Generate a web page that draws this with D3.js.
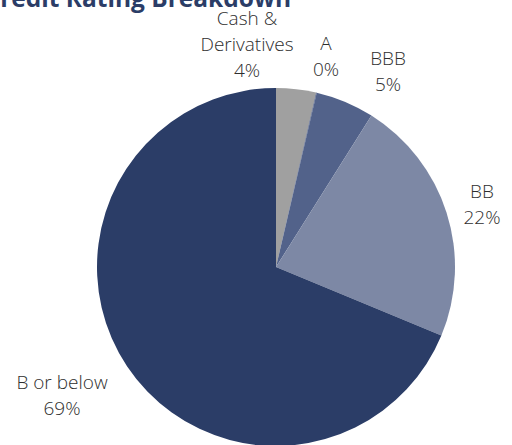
<!DOCTYPE html>
<html>
<head>
<meta charset="utf-8">
<script src="https://cdn.jsdelivr.net/npm/d3@7"></script>
<style>
    body { margin: 0; background: #fff; }
    .label { font-family: "Open Sans", "Noto Sans", sans-serif; font-size: 19px; font-weight: 300; fill: #2e2e2e; }
    .title { font-family: "Open Sans", "Noto Sans", sans-serif; font-size: 24.5px; font-weight: 700; fill: #2b3d67; }
</style>
</head>
<body>
<div id="chart"></div>
<script>
// data
let categories = ["Cash & Derivatives", "A", "BBB", "BB", "B or below"];
let shares = [3.6, 0.05, 5.3, 22.3, 68.75];
let pctLabels = ["4%", "0%", "5%", "22%", "69%"];
let labelLines = [["Cash &", "Derivatives"], ["A"], ["BBB"], ["BB"], ["B or below"]];
let colors = ["#a0a0a0", "#3d4d78", "#52628a", "#7d88a5", "#2b3d67"];

// label anchors (centre of text block), picked to match the Excel layout
let labelAnchor = [[247, 16], [326, 41], [388, 56], [482, 189], [62, 380]];

let width = 512, height = 445;
let cx = 276, cy = 267, radius = 179;
let lineH = 26;

let svg = d3.select("#chart").append("svg")
    .attr("width", width)
    .attr("height", height);

// title (top cut off like the original)
svg.append("text")
    .attr("class", "title")
    .attr("x", 291)
    .attr("y", 7)
    .attr("text-anchor", "end")
    .text("Credit Rating Breakdown");

let color = d3.scaleOrdinal().domain(categories).range(colors);

let pie = d3.pie()
    .sort(null)
    .value(d => d.value);

let data = categories.map((c, i) => ({name: c, value: shares[i], pct: pctLabels[i], lines: labelLines[i], anchor: labelAnchor[i]}));

let arc = d3.arc()
    .innerRadius(0)
    .outerRadius(radius);

let g = svg.append("g")
    .attr("transform", `translate(${cx}, ${cy})`);

g.selectAll(".slice")
    .data(pie(data))
    .enter()
    .append("path")
    .attr("class", "slice")
    .attr("d", arc)
    .attr("fill", d => color(d.data.name));

// labels
let labels = svg.selectAll(".label")
    .data(data)
    .enter()
    .append("text")
    .attr("class", "label")
    .attr("text-anchor", "middle");

labels.each(function(d) {
    let t = d3.select(this);
    let lines = d.lines.concat([d.pct]);
    lines.forEach((l, i) => {
        t.append("tspan")
            .attr("x", d.anchor[0])
            .attr("y", d.anchor[1] + i * lineH + 9)
            .text(l);
    });
});
</script>
</body>
</html>
